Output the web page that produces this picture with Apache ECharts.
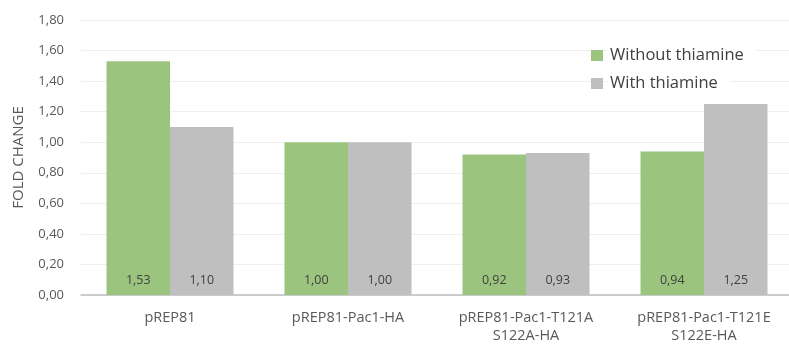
<!DOCTYPE html>
<html><head><meta charset="utf-8">
<script src="https://cdn.jsdelivr.net/npm/echarts@6/dist/echarts.min.js"></script>
<style>html,body{margin:0;padding:0;background:#fff}#c{width:789px;height:347px}</style>
</head><body><div id="c"></div>
<script>
const categories = ['pREP81', 'pREP81-Pac1-HA', 'pREP81-Pac1-T121A\nS122A-HA', 'pREP81-Pac1-T121E\nS122E-HA'];
const withoutThiamine = [1.53, 1.00, 0.92, 0.94];
const withThiamine = [1.10, 1.00, 0.93, 1.25];
const yTicks = [0, 0.2, 0.4, 0.6, 0.8, 1.0, 1.2, 1.4, 1.6, 1.8];
const seriesNames = ['Without thiamine', 'With thiamine'];

const FONT = '"Open Sans", sans-serif';
const chart = echarts.init(document.getElementById('c'), null, {renderer: 'canvas'});
const lbl = {
  show: true, position: 'insideBottom', distance: 8,
  color: '#404040', fontSize: 12.5, fontFamily: FONT,
  formatter: p => p.value.toFixed(2).replace('.', ',')
};
chart.setOption({
  animation: false,
  grid: {left: 81, right: -4, top: 20, bottom: 52, outerBoundsMode: 'none', containLabel: false},
  legend: {
    orient: 'vertical', left: 586, top: 40, itemWidth: 12, itemHeight: 11, itemGap: 7,
    data: seriesNames,
    textStyle: {fontSize: 16.5, color: '#404040', fontFamily: FONT, backgroundColor: '#fff', padding: [2, 12, 2, 2]},
    icon: 'rect'
  },
  xAxis: {
    type: 'category', data: categories,
    axisLine: {lineStyle: {color: '#BFBFBF', width: 1.5}},
    axisTick: {show: false},
    axisLabel: {color: '#595959', fontSize: 14.5, fontFamily: FONT, margin: 14, lineHeight: 18}
  },
  yAxis: {
    type: 'value', min: 0, max: 1.8, interval: 0.2,
    name: 'FOLD CHANGE', nameLocation: 'middle', nameGap: 55,
    nameTextStyle: {color: '#595959', fontSize: 15, fontFamily: FONT},
    axisLine: {show: false}, axisTick: {show: false},
    splitLine: {lineStyle: {color: '#EFEFEF', width: 1}},
    axisLabel: {color: '#595959', fontSize: 13, fontFamily: FONT, margin: 17,
      formatter: v => yTicks.includes(Math.round(v * 10) / 10) ? v.toFixed(2).replace('.', ',') : ''}
  },
  series: [
    {name: seriesNames[0], type: 'bar', data: withoutThiamine, barWidth: 63.5, barGap: '0%',
     itemStyle: {color: '#9BC57E'}, label: lbl},
    {name: seriesNames[1], type: 'bar', data: withThiamine, barWidth: 63.5, barGap: '0%',
     itemStyle: {color: '#BFBFBF'}, label: lbl}
  ]
});
</script></body></html>
